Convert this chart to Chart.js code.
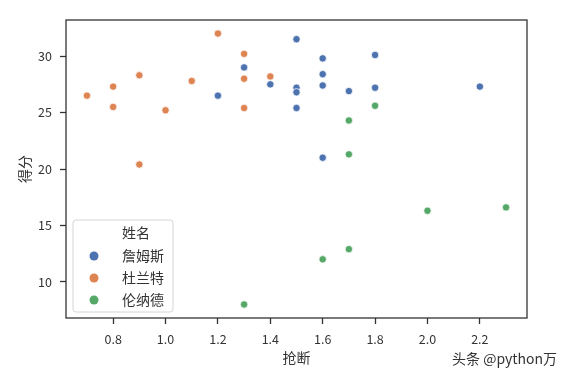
<!DOCTYPE html>
<html>
<head>
<meta charset="utf-8">
<script src="https://cdn.jsdelivr.net/npm/chart.js@4"></script>
<style>
  body { margin: 0; background: #fff; }
  #wrap { position: relative; width: 575px; height: 377px; }
  #mark { position: absolute; left: 452px; top: 350px; font: 14px "Noto Sans CJK SC", sans-serif; line-height: 16px; color: #333; }
</style>
</head>
<body>
<div id="wrap">
  <canvas id="myChart" width="575" height="377"></canvas>
  <div id="mark">头条 @python万</div>
</div>
<script>
'use strict';

const names = ['詹姆斯', '杜兰特', '伦纳德'];
const colors = ['#4c72b0', '#dd8452', '#55a868'];

const jamesX = [1.2, 1.3, 1.4, 1.5, 1.5, 1.5, 1.5, 1.6, 1.6, 1.6, 1.6, 1.7, 1.8, 1.8, 2.2];
const jamesY = [26.5, 29.0, 27.5, 31.5, 27.2, 26.8, 25.4, 29.8, 28.4, 27.4, 21.0, 26.9, 30.1, 27.2, 27.3];
const durantX = [0.7, 0.8, 0.8, 0.9, 0.9, 1.0, 1.1, 1.2, 1.3, 1.3, 1.3, 1.4];
const durantY = [26.5, 27.3, 25.5, 28.3, 20.4, 25.2, 27.8, 32.0, 30.2, 28.0, 25.4, 28.2];
const leonardX = [1.3, 1.6, 1.7, 1.7, 1.7, 1.8, 2.0, 2.3];
const leonardY = [8.0, 12.0, 12.9, 21.3, 24.3, 25.6, 16.3, 16.6];

const xTicks = [0.8, 1.0, 1.2, 1.4, 1.6, 1.8, 2.0, 2.2];
const yTicks = [10, 15, 20, 25, 30];

const font = '"Noto Sans CJK SC", sans-serif';
const ink = '#333';

function points(xs, ys) {
    return xs.map((x, i) => ({ x: x, y: ys[i] }));
}

const series = [points(jamesX, jamesY), points(durantX, durantY), points(leonardX, leonardY)];

// frame on all four sides + legend box in lower left (seaborn style)
const frameAndLegend = {
    id: 'frameAndLegend',
    afterDraw(chart) {
        const c = chart.ctx;
        const a = chart.chartArea;
        c.save();
        c.strokeStyle = ink;
        c.lineWidth = 1.3;
        c.strokeRect(a.left, a.top, a.right - a.left, a.bottom - a.top);

        const bx = a.left + 7, by = a.bottom - 98, bw = 100, bh = 92;
        c.beginPath();
        c.roundRect(bx, by, bw, bh, 3);
        c.fillStyle = 'rgba(255,255,255,0.8)';
        c.fill();
        c.strokeStyle = '#d5d5d5';
        c.lineWidth = 1;
        c.stroke();

        c.fillStyle = ink;
        c.font = '14px ' + font;
        c.textBaseline = 'middle';
        c.textAlign = 'center';
        c.fillText('姓名', bx + 63, by + 13);
        c.textAlign = 'left';
        names.forEach((n, i) => {
            const y = by + 36 + i * 22;
            c.beginPath();
            c.arc(bx + 21, y, 4.5, 0, Math.PI * 2);
            c.fillStyle = colors[i];
            c.fill();
            c.fillStyle = ink;
            c.fillText(n, bx + 49, y);
        });
        c.restore();
    }
};

const ctx = document.getElementById('myChart').getContext('2d');

const myChart = new Chart(ctx, {
    type: 'scatter',
    data: {
        datasets: names.map((n, i) => ({
            label: n,
            data: series[i],
            backgroundColor: colors[i],
            borderColor: '#ffffff',
            borderWidth: 0.75,
            pointRadius: 3.7
        }))
    },
    plugins: [frameAndLegend],
    options: {
        responsive: false,
        devicePixelRatio: 1,
        animation: false,
        layout: { padding: { left: 0, right: 48, top: 20, bottom: 0 } },
        plugins: {
            legend: { display: false },
            tooltip: { enabled: false }
        },
        scales: {
            x: {
                type: 'linear',
                min: 0.62,
                max: 2.38,
                afterBuildTicks: function (scale) {
                    scale.ticks = xTicks.map(v => ({ value: v }));
                },
                afterFit: function (scale) {
                    scale.height = 59;
                },
                ticks: {
                    autoSkip: false,
                    maxRotation: 0,
                    padding: 8,
                    color: ink,
                    font: { family: font, size: 12.5 },
                    callback: function (val) {
                        return val.toFixed(1);
                    }
                },
                grid: { drawOnChartArea: false, tickLength: 6, tickColor: ink, tickWidth: 1.3 },
                border: { display: false },
                title: {
                    display: true,
                    text: '抢断',
                    color: ink,
                    font: { family: font, size: 14 },
                    padding: { top: 0, bottom: 11 }
                }
            },
            y: {
                min: 6.8,
                max: 33.2,
                afterBuildTicks: function (scale) {
                    scale.ticks = yTicks.map(v => ({ value: v }));
                },
                afterFit: function (scale) {
                    scale.width = 66;
                },
                ticks: {
                    padding: 8,
                    color: ink,
                    font: { family: font, size: 12.5 }
                },
                grid: { drawOnChartArea: false, tickLength: 6, tickColor: ink, tickWidth: 1.3 },
                border: { display: false },
                title: {
                    display: true,
                    text: '得分',
                    color: ink,
                    font: { family: font, size: 14 },
                    padding: { top: 16, bottom: 0 }
                }
            }
        }
    }
});
</script>
</body>
</html>
